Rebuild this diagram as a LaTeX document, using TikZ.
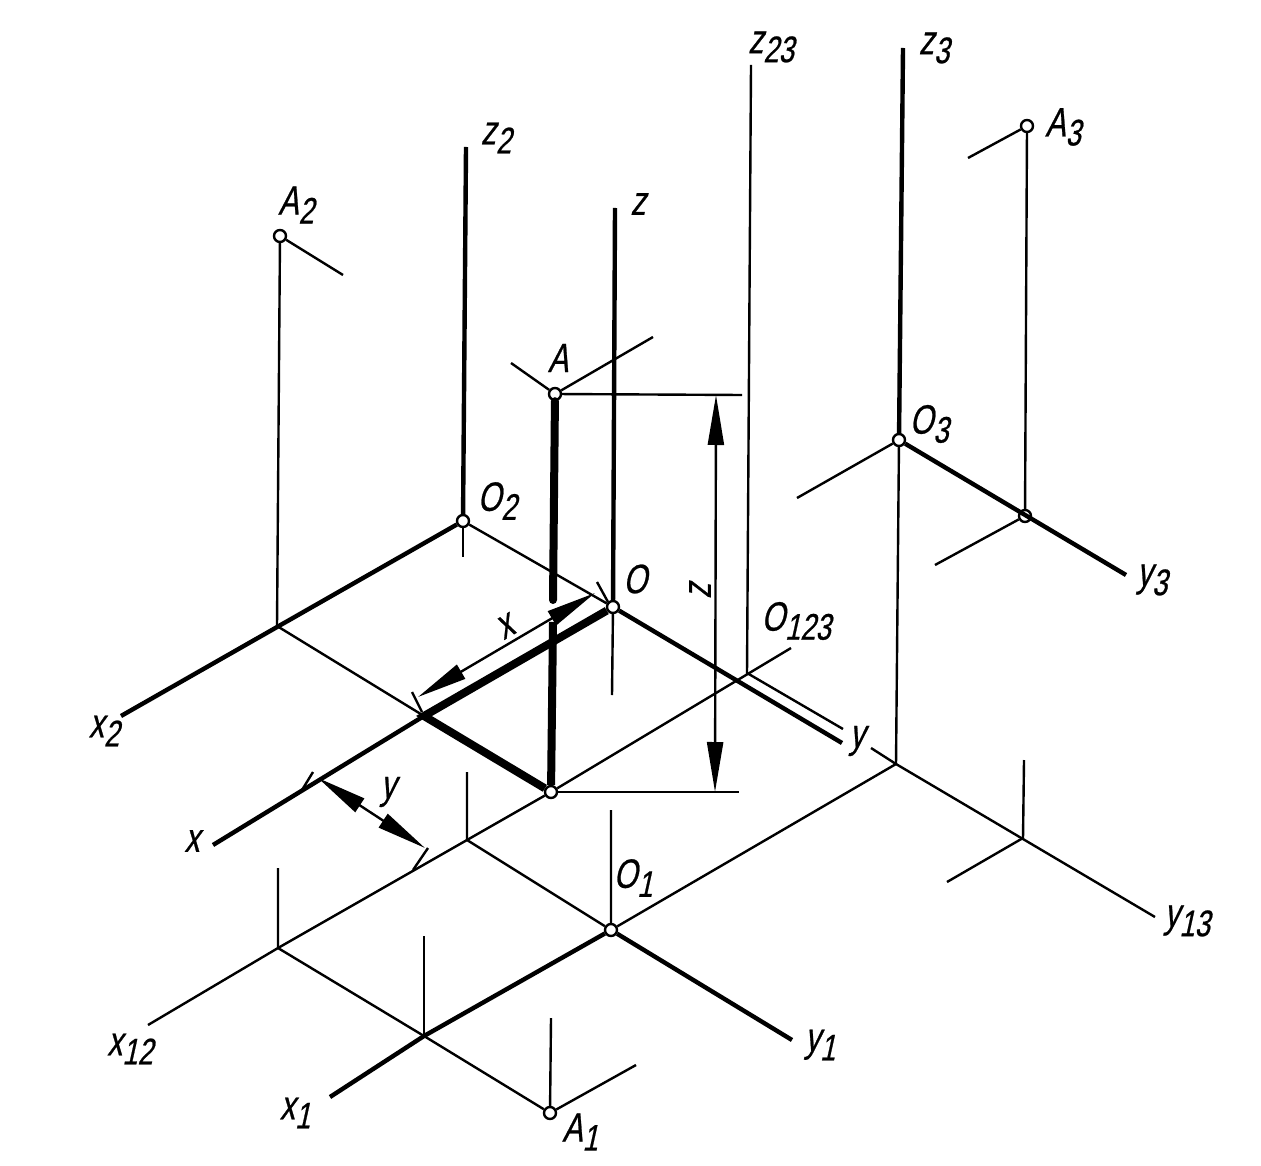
\documentclass[tikz,border=0pt]{standalone}
\usepackage{fontspec}
\usetikzlibrary{arrows.meta}
\newfontfamily\isofont[FakeStretch=0.74,FakeSlant=0.22,FakeBold=0.6]{Liberation Sans}
\newcommand{\subidx}[1]{\raisebox{-0.22em}{\fontsize{18.5}{18.5}\selectfont #1}}
\tikzset{
  pt/.style={circle,draw=black,fill=white,line width=1.2pt,inner sep=0pt,minimum size=6pt},
  lab/.style={inner sep=0pt,font=\fontsize{20.5}{20.5}\selectfont\isofont},
  thinl/.style={line width=1.2pt},
  medl/.style={line width=2.2pt},
  heavyl/.style={line width=4pt},
  dim/.style={line width=1.2pt,{Triangle[length=25pt,width=8pt]}-{Triangle[length=25pt,width=8pt]}}
}
\begin{document}
\begin{tikzpicture}[x=0.5pt,y=-0.5pt]
\useasboundingbox (0,0) rectangle (1261,1165);
% points with a small circle
\node[pt] (O) at (613,607) {};
\node[pt] (A) at (555,394) {};
\node[pt] (Az) at (551,792) {};
\node[pt] (O1) at (611,930) {};
\node[pt] (O2) at (463,521) {};
\node[pt] (O3) at (899,440) {};
\node[pt] (A1) at (550,1113) {};
\node[pt] (A2) at (280,236) {};
\node[pt] (A3) at (1027,126) {};
\node[pt] (Ay) at (1025,516) {};
% free ends and corners
\coordinate (Ax) at (424,716);
\coordinate (zt) at (615,208);
\coordinate (zb) at (612,695);
\coordinate (xe) at (213,845);
\coordinate (ye) at (842,743);
\coordinate (Ab) at (553,600);
\coordinate (Ac) at (553,622);
\coordinate (Al) at (511,363);
\coordinate (Ar) at (653,337);
\coordinate (Ah) at (742,395);
\coordinate (Azh) at (739,792);
\coordinate (z2t) at (466,147);
\coordinate (z2b) at (463,557);
\coordinate (x2e) at (121,716);
\coordinate (X2) at (277,626);
\coordinate (A2r) at (343,275);
\coordinate (z3t) at (903,48);
\coordinate (Q) at (896,764);
\coordinate (y3e) at (1126,575);
\coordinate (O3l) at (797,498);
\coordinate (Ayl) at (935,565);
\coordinate (A3l) at (968,158);
\coordinate (z23t) at (751,65);
\coordinate (P) at (747,673);
\coordinate (y23e) at (843,729);
\coordinate (x12r) at (791,648);
\coordinate (x12e) at (148,1025);
\coordinate (R) at (467,840);
\coordinate (Rt) at (467,772);
\coordinate (S) at (278,948);
\coordinate (St) at (278,868);
\coordinate (T) at (424,1036);
\coordinate (Tt) at (424,936);
\coordinate (z1t) at (611,810);
\coordinate (x1e) at (330,1097);
\coordinate (y1e) at (792,1040);
\coordinate (A1t) at (551,1018);
\coordinate (A1r) at (636,1065);
\coordinate (y13l) at (871,748);
\coordinate (y13e) at (1155,917);
\coordinate (U) at (1023,838);
\coordinate (Ut) at (1024,760);
\coordinate (Ul) at (947,882);
\coordinate (dzt) at (716,395);
\coordinate (dzb) at (715,792);
\coordinate (dxa) at (595,593);
\coordinate (dxb) at (418,697);
\coordinate (txa) at (597,582);
\coordinate (txb) at (608,602);
\coordinate (txc) at (412,692);
\coordinate (txd) at (422,712);
\coordinate (dya) at (318,778);
\coordinate (dyb) at (425,848);
\coordinate (tya) at (302,790);
\coordinate (tyb) at (313,772);
\coordinate (tyc) at (413,870);
\coordinate (tyd) at (428,848);
% axes
\draw[medl] (zt) -- (O);
\draw[thinl] (O) -- (zb);
\draw[heavyl] (O) -- (Ax) -- (Az);
\draw[medl] (Ax) -- (xe);
\draw[medl] (O) -- (ye);
\draw[heavyl,line cap=round] (A) -- (Ab);
\draw[heavyl] (Ac) -- (Az);
\draw[medl] (z2t) -- (O2);
\draw[medl] (O2) -- (x2e);
\draw[thinl] (O2) -- (z2b);
\draw[thinl] (O2) -- (O);
\draw[thinl] (A2) -- (X2) -- (Ax);
\draw[thinl] (A2) -- (A2r);
\draw[medl] (z3t) -- (O3);
\draw[thinl] (O3) -- (Q);
\draw[medl] (O3) -- (y3e);
\draw[thinl] (O3) -- (O3l);
\draw[thinl] (A3) -- (Ay) -- (Ayl);
\draw[thinl] (A3) -- (A3l);
\draw[thinl] (z23t) -- (P) -- (y23e);
\draw[thinl] (x12r) -- (Az) -- (R) -- (S) -- (x12e);
\draw[thinl] (Rt) -- (R) -- (O1);
\draw[thinl] (St) -- (S) -- (T) -- (A1);
\draw[thinl] (Tt) -- (T);
\draw[thinl] (z1t) -- (O1) -- (Q);
\draw[medl] (O1) -- (T) -- (x1e);
\draw[medl] (O1) -- (y1e);
\draw[thinl] (A1t) -- (A1) -- (A1r);
\draw[thinl] (y13l) -- (Q) -- (y13e);
\draw[thinl] (Ut) -- (U) -- (Ul);
% dimensions
\draw[thinl] (A) -- (Ar);
\draw[thinl] (A) -- (Al);
\draw[thinl] (A) -- (Ah);
\draw[thinl] (Az) -- (Azh);
\draw[dim] (dzt) -- (dzb);
\draw[dim] (dxa) -- (dxb);
\draw[dim] (dya) -- (dyb);
\draw[thinl] (txa) -- (txb);
\draw[thinl] (txc) -- (txd);
\draw[thinl] (tya) -- (tyb);
\draw[thinl] (tyc) -- (tyd);
% labels
\node[lab] (lz23) at (771,47) {z\subidx{23}};
\node[lab] (lz3) at (934,48) {z\subidx{3}};
\node[lab] (lA3) at (1063,127) {A\subidx{3}};
\node[lab] (lz2) at (496,138) {z\subidx{2}};
\node[lab] (lA2) at (296,205) {A\subidx{2}};
\node[lab] (lz) at (638,204) {z};
\node[lab] (lA) at (558,358) {A};
\node[lab] (lO3) at (929,424) {O\subidx{3}};
\node[lab] (lO2) at (497,501) {O\subidx{2}};
\node[lab] (lO) at (635,579) {O};
\node[lab] (lO123) at (796,621) {O\subidx{123}};
\node[lab] (ly3) at (1152,580) {y\subidx{3}};
\node[lab] (ly) at (857,741) {y};
\node[lab] (lx2) at (104,731) {x\subidx{2}};
\node[lab] (lx) at (192,841) {x};
\node[lab] (lx12) at (130,1049) {x\subidx{12}};
\node[lab] (ly13) at (1187,921) {y\subidx{13}};
\node[lab] (ly1) at (820,1045) {y\subidx{1}};
\node[lab] (lx1) at (295,1113) {x\subidx{1}};
\node[lab] (lA1) at (580,1132) {A\subidx{1}};
\node[lab] (lO1) at (633,878) {O\subidx{1}};
\node[lab,rotate=30] (ldx) at (505,627) {x};
\node[lab] (ldy) at (388,792) {y};
\node[lab,rotate=90] (ldz) at (700,591) {z};
\end{tikzpicture}
\end{document}
